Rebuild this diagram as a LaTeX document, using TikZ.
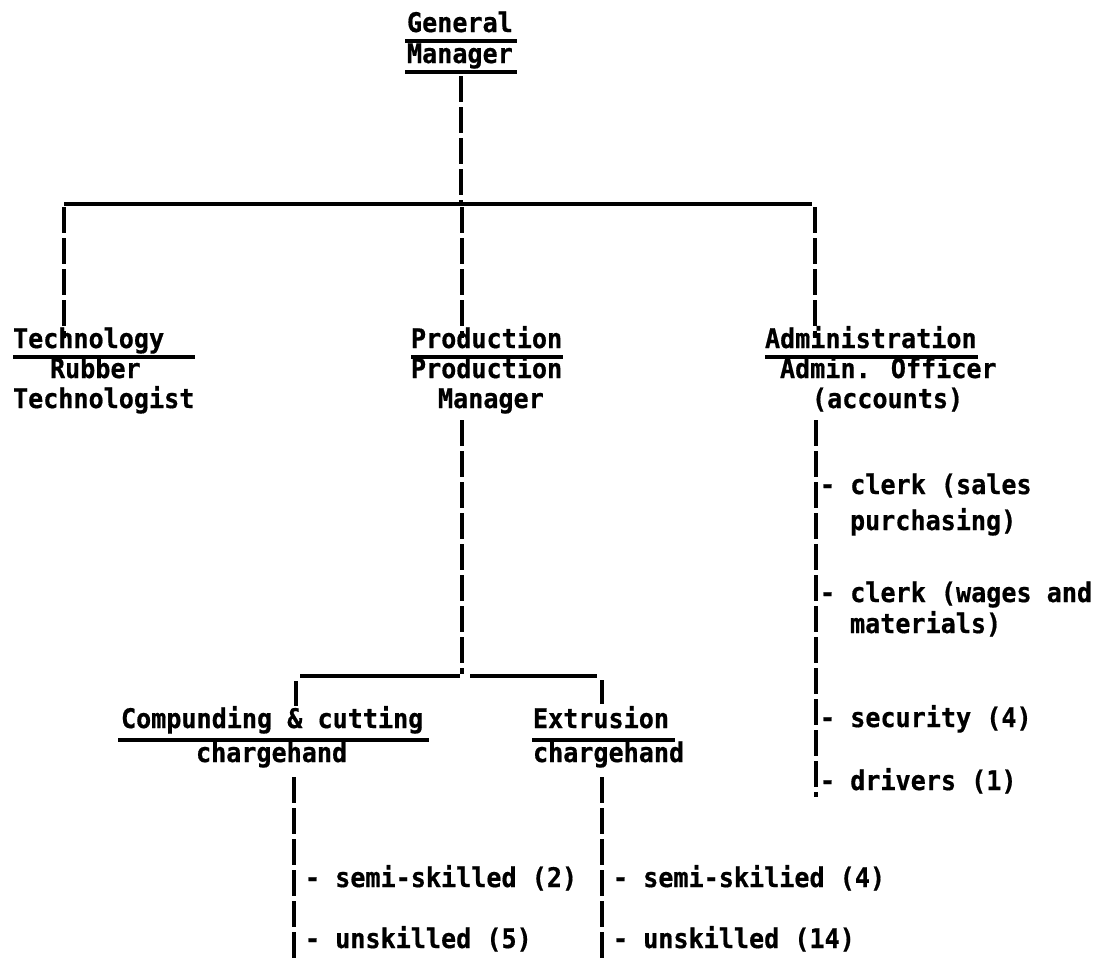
\documentclass[tikz,border=0pt]{standalone}
\usepackage{fontspec}
\newfontfamily\typewriter[FakeStretch=0.93,FakeBold=0.6]{DejaVu Sans Mono}
\begin{document}
\begin{tikzpicture}[x=1pt,y=-1pt,
  lbl/.style={anchor=base west, inner sep=0pt, outer sep=0pt,
    font=\typewriter\bfseries\fontsize{27}{27}\selectfont},
  rule/.style={line width=3.2pt},
  bar/.style={line width=3.2pt, dash pattern=on 26pt off 5pt},
]
\useasboundingbox (0,0) rectangle (1111,959);

% ---- top: general manager
\node[lbl] (gm1) at (407,32) {General};
\node[lbl] (gm2) at (407,63) {Manager};
\draw[rule] (405,41) -- (517,41);
\draw[rule] (405,72) -- (517,72);

% ---- departments
\node[lbl] (tec1) at (13,348) {Technology};
\node[lbl] (tec2) at (50,378) {Rubber};
\node[lbl] (tec3) at (13,408) {Technologist};
\draw[rule] (13,357) -- (195,357);

\node[lbl] (pro1) at (411,348) {Production};
\node[lbl] (pro2) at (411,378) {Production};
\node[lbl] (pro3) at (438,408) {Manager};
\draw[rule] (411,357) -- (563,357);

\node[lbl] (adm1) at (765,348) {Administration};
\node[lbl] (adm2) at (780,378) {Admin. Officer};
\node[lbl] (adm3) at (812,408) {(accounts)};
\draw[rule] (765,357) -- (978,357);

% ---- connectors between manager and departments
\coordinate (gmfoot) at (461,76);
\coordinate (busM) at (461,204);
\coordinate (busL) at (64,204);
\coordinate (busR) at (812,204);
\coordinate (tectop) at (64,338);
\coordinate (protop) at (462,338);
\coordinate (admtop) at (815,338);
\draw[bar] (gmfoot) -- (busM);
\draw[rule] (busL) -- (busR);
\draw[bar] (64,207) -- (tectop);
\draw[bar] (462,207) -- (protop);
\draw[bar] (815,207) -- (admtop);

% ---- administration staff
\coordinate (admfoot) at (816,420);
\coordinate (admend) at (816,797);
\draw[bar] (admfoot) -- (admend);
\node[lbl] (cl1a) at (820,494) {- clerk (sales};
\node[lbl] (cl1b) at (850,530) {purchasing)};
\node[lbl] (cl2a) at (820,602) {- clerk (wages and};
\node[lbl] (cl2b) at (850,633) {materials)};
\node[lbl] (sec) at (820,727) {- security (4)};
\node[lbl] (drv) at (820,790) {- drivers (1)};

% ---- production sections
\coordinate (profoot) at (462,420);
\coordinate (subM) at (462,674);
\draw[bar] (profoot) -- (subM);
\coordinate (subL) at (300,676);
\coordinate (subR) at (597,676);
\draw[rule] (subL) -- (460,676);
\draw[rule] (470,676) -- (subR);
\draw[rule] (296,681) -- (296,706);
\draw[rule] (602,680) -- (602,704);

\node[lbl] (cmp1) at (121,728) {Compunding \& cutting};
\node[lbl] (cmp2) at (196,762) {chargehand};
\draw[rule] (118,740) -- (429,740);

\node[lbl] (ext1) at (533,728) {Extrusion};
\node[lbl] (ext2) at (533,762) {chargehand};
\draw[rule] (532,740) -- (675,740);

% ---- workers
\coordinate (cmpfoot) at (294,777);
\coordinate (cmpend) at (294,959);
\draw[bar] (cmpfoot) -- (cmpend);
\node[lbl] (cw1) at (305,887) {- semi-skilled (2)};
\node[lbl] (cw2) at (305,948) {- unskilled (5)};

\coordinate (extfoot) at (602,777);
\coordinate (extend) at (602,959);
\draw[bar] (extfoot) -- (extend);
\node[lbl] (ew1) at (613,887) {- semi-skilied (4)};
\node[lbl] (ew2) at (613,948) {- unskilled (14)};
\end{tikzpicture}
\end{document}
